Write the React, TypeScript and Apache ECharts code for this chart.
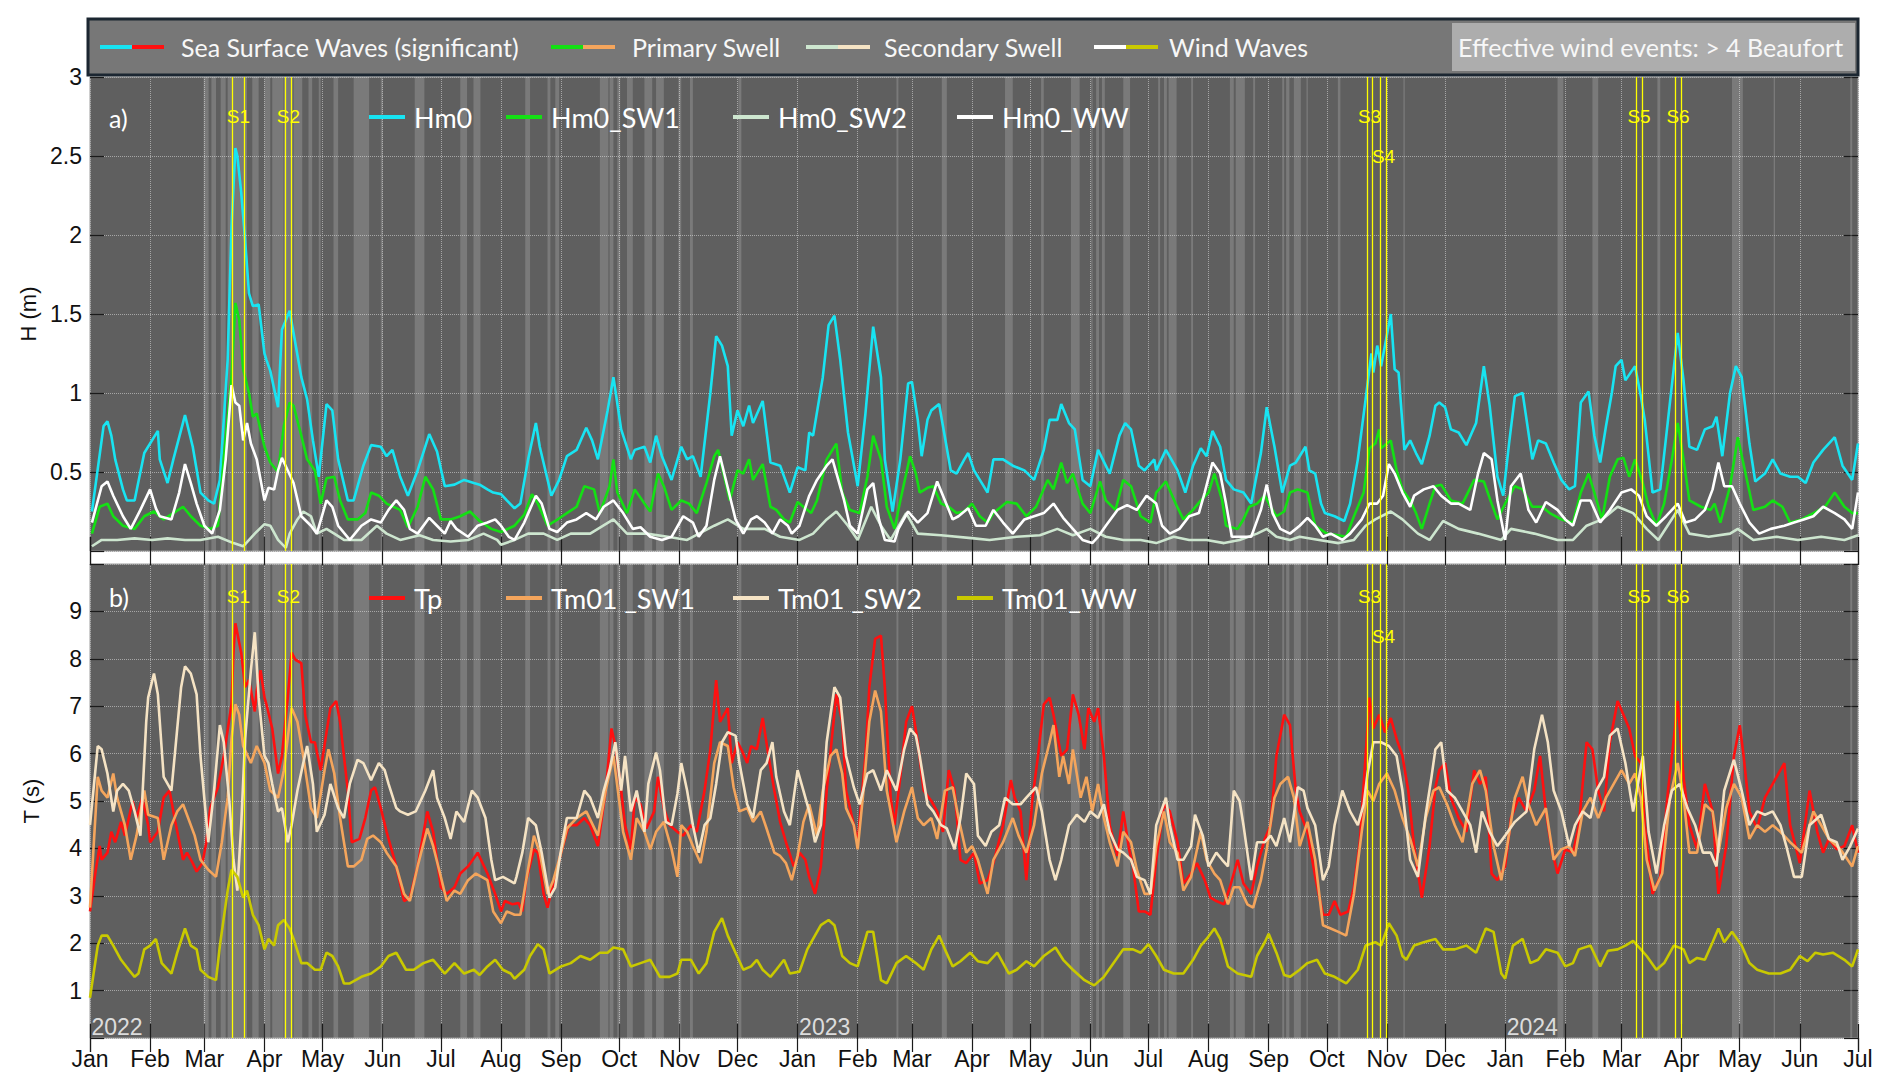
import React, { useEffect, useRef } from "react";
import * as echarts from "echarts";

// ---------- data (x = days since 2022-01-01) ----------
const MONTHS = ["Jan", "Feb", "Mar", "Apr", "May", "Jun", "Jul", "Aug", "Sep", "Oct", "Nov", "Dec"];
const YEARS = ["2022", "2023", "2024"];
const YEAR_DAYS = [0, 365, 730];
const END_DAY = 912;

const STORM_NAMES = ["S1", "S2", "S3", "S4", "S5", "S6"];
const STORM_START = [73.5, 100.9, 658.7, 665.7, 797.6, 817.7];
const STORM_END = [79.7, 103.8, 661.4, 668.8, 800.5, 820.6];
const STORM_LOW = [false, false, false, true, false, false];

const BAND_START = [58.6, 62.6, 67.4, 71, 83.7, 90, 94, 100, 105, 112.7, 118, 125.6, 136, 150, 167.5, 191, 197.8, 224.5, 236, 240, 263, 268, 272, 277, 286, 292, 303.5, 309.5, 334.5, 416, 439.4, 472, 490.6, 506, 516.5, 519, 522, 533, 551, 554, 556.4, 568, 588, 591, 600, 615, 617, 621, 627.5, 643.7, 677.5, 757, 775, 808.5, 847, 868.5, 908];
const BAND_END = [61.2, 65, 70, 81, 87, 93, 99.8, 104.5, 109.5, 114.6, 119, 128, 144, 151, 172.5, 194.5, 201.4, 227, 237.5, 242, 267.4, 270, 273.5, 280, 290, 296, 305, 311, 336, 417, 442, 476, 492, 510.5, 517.2, 520.5, 523.5, 536.5, 552, 555.5, 560.5, 569, 590, 595.7, 601, 616, 618.7, 624.6, 628.2, 645, 678.2, 760, 778, 810, 852.6, 869.2, 909];

const HM0: number[][] = [[1,0.25],[7,0.79],[9,0.82],[11,0.73],[13,0.58],[17,0.39],[19,0.32],[23,0.32],[28,0.62],[35,0.76],[36,0.58],[40,0.43],[43,0.58],[49,0.86],[53,0.66],[57,0.37],[61,0.32],[64,0.30],[67,0.45],[71,1.21],[73,2.05],[75,2.55],[76,2.5],[78,2.27],[80,1.97],[82,1.63],[84,1.55],[87,1.56],[90,1.25],[91,1.21],[93,1.14],[97,0.91],[99,1.4],[103,1.52],[105,1.38],[109,1.1],[112,0.96],[115,0.70],[118,0.47],[122,0.93],[125,0.89],[128,0.58],[133,0.32],[136,0.32],[141,0.54],[145,0.67],[150,0.66],[153,0.60],[156,0.64],[160,0.47],[164,0.35],[169,0.51],[175,0.74],[179,0.63],[183,0.41],[188,0.42],[193,0.45],[198,0.43],
[201,0.42],[205,0.39],[208,0.37],[212,0.36],[215,0.32],[219,0.27],[222,0.30],[226,0.58],[230,0.81],[232,0.66],[238,0.35],[242,0.45],[246,0.60],[251,0.64],[256,0.78],[259,0.70],[262,0.58],[267,0.89],[270,1.1],[274,0.77],[279,0.58],[281,0.64],[286,0.66],[289,0.56],[292,0.73],[295,0.60],[300,0.45],[305,0.66],[308,0.58],[311,0.60],[315,0.47],[320,1.0],[323,1.36],[326,1.3],[329,1.17],[331,0.73],[334,0.89],[337,0.79],[340,0.92],[342,0.81],[347,0.95],[351,0.56],[356,0.54],[361,0.37],[365,0.53],[369,0.51],[371,0.75],[373,0.73],[378,1.1],[381,1.43],[384,1.49],[387,1.21],[391,0.75],[396,0.41],[400,0.87],[404,1.42],[408,1.1],[410,0.58],
[414,0.25],[418,0.58],[422,1.06],[424,1.07],[427,0.83],[429,0.6],[432,0.83],[434,0.89],[438,0.93],[440,0.79],[444,0.51],[447,0.49],[451,0.58],[453,0.62],[456,0.51],[459,0.45],[463,0.37],[466,0.58],[471,0.58],[476,0.54],[482,0.51],[487,0.45],[492,0.64],[495,0.83],[499,0.83],[501,0.93],[505,0.81],[508,0.77],[512,0.45],[516,0.41],[520,0.64],[526,0.49],[531,0.73],[534,0.81],[537,0.77],[541,0.54],[544,0.51],[549,0.58],[550,0.51],[555,0.64],[561,0.51],[565,0.37],[569,0.54],[573,0.65],[576,0.60],[579,0.76],[583,0.66],[586,0.45],[590,0.39],[595,0.37],[599,0.30],[604,0.62],[607,0.91],[611,0.66],[615,0.37],[619,0.54],[622,0.56],
[627,0.66],[629,0.51],[632,0.49],[635,0.30],[637,0.24],[642,0.22],[647,0.19],[650,0.30],[654,0.58],[658,0.96],[661,1.25],[662,1.13],[664,1.30],[666,1.17],[668,1.3],[671,1.5],[673,1.15],[675,1.13],[678,0.64],[681,0.70],[684,0.62],[687,0.55],[691,0.73],[694,0.92],[696,0.94],[699,0.91],[702,0.77],[706,0.75],[710,0.67],[715,0.81],[719,1.17],[722,0.92],[726,0.47],[729,0.35],[732,0.68],[735,0.98],[739,1.0],[742,0.75],[744,0.58],[747,0.70],[751,0.68],[755,0.56],[759,0.45],[763,0.39],[766,0.41],[769,0.94],[773,1.01],[776,0.73],[779,0.56],[782,0.79],[785,1.0],[787,1.17],[790,1.21],[792,1.08],[797,1.17],[800,0.98],[802,0.83],[806,0.37],[810,0.39],[814,0.83],[819,1.38],[822,1.08],[825,0.66],[829,0.64],[833,0.77],[837,0.79],[839,0.85],[842,0.60],[846,1.0],[849,1.17],[852,1.1],[856,0.68],[859,0.44],[864,0.49],[868,0.58],[872,0.49],[877,0.47],[881,0.47],[885,0.43],[889,0.56],[894,0.64],[900,0.72],[904,0.54],[909,0.45],[912,0.68]];

const HM0_SW1: number[][] = [[1,0.11],[5,0.28],[9,0.30],[12,0.22],[17,0.16],[23,0.14],[28,0.22],[33,0.25],[38,0.20],[43,0.24],[48,0.28],[52,0.22],[57,0.16],[62,0.14],[66,0.16],[69,0.58],[73,1.1],[75,1.57],[77,1.46],[79,1.15],[82,1.0],[84,0.85],[86,0.87],[90,0.66],[93,0.56],[97,0.5],[100,0.79],[103,0.94],[105,0.92],[109,0.73],[112,0.58],[116,0.51],[119,0.30],[122,0.46],[126,0.47],[129,0.32],[133,0.20],[138,0.2],[142,0.24],[145,0.37],[149,0.35],[153,0.30],[160,0.26],[164,0.15],[169,0.28],[173,0.47],[177,0.39],[181,0.2],[186,0.2],[191,0.22],[196,0.25],
[201,0.19],[207,0.14],[212,0.12],[219,0.16],[224,0.23],[228,0.36],[231,0.30],[236,0.16],[240,0.19],[246,0.24],[251,0.28],[255,0.41],[260,0.39],[263,0.24],[268,0.41],[270,0.58],[272,0.37],[277,0.24],[281,0.39],[286,0.30],[289,0.25],[293,0.49],[296,0.41],[300,0.26],[305,0.32],[309,0.30],[313,0.24],[318,0.43],[322,0.60],[324,0.64],[327,0.48],[330,0.32],[334,0.51],[337,0.49],[340,0.58],[342,0.45],[347,0.55],[351,0.28],[354,0.26],[358,0.2],[361,0.18],[365,0.31],[368,0.28],[372,0.24],[375,0.32],[380,0.58],[385,0.68],[388,0.37],[392,0.26],[397,0.24],[401,0.47],[404,0.73],[408,0.58],[411,0.28],
[415,0.14],[418,0.32],[423,0.60],[426,0.49],[428,0.37],[432,0.40],[435,0.41],[439,0.30],[443,0.28],[447,0.24],[451,0.25],[455,0.3],[459,0.22],[463,0.18],[466,0.24],[473,0.31],[478,0.30],[483,0.22],[488,0.28],[494,0.45],[497,0.39],[501,0.56],[504,0.43],[507,0.49],[512,0.30],[516,0.24],[521,0.44],[524,0.32],[529,0.26],[533,0.45],[537,0.41],[542,0.22],[547,0.18],[550,0.37],[555,0.44],[560,0.30],[564,0.2],[569,0.26],[573,0.32],[577,0.37],[580,0.49],[584,0.32],[586,0.16],[592,0.14],[595,0.2],[598,0.28],[602,0.30],[606,0.35],[609,0.28],[612,0.22],[616,0.25],[619,0.37],[623,0.39],
[628,0.37],[632,0.16],[638,0.11],[644,0.10],[648,0.09],[652,0.22],[657,0.37],[660,0.65],[663,0.68],[665,0.77],[666,0.65],[669,0.68],[671,0.70],[674,0.51],[677,0.39],[681,0.32],[684,0.24],[687,0.14],[691,0.30],[694,0.41],[697,0.42],[702,0.32],[708,0.30],[714,0.45],[719,0.44],[723,0.30],[726,0.2],[730,0.30],[735,0.41],[739,0.39],[744,0.28],[749,0.28],[753,0.24],[759,0.2],[765,0.18],[769,0.37],[773,0.49],[776,0.37],[780,0.2],[784,0.47],[788,0.58],[791,0.59],[794,0.47],[797,0.58],[801,0.43],[804,0.28],[808,0.16],[812,0.30],[816,0.58],[819,0.81],[822,0.58],[825,0.32],[831,0.28],[836,0.26],[838,0.30],[841,0.18],[846,0.41],[850,0.72],[854,0.49],[858,0.26],[864,0.28],[868,0.32],[873,0.28],[877,0.18],[883,0.2],[889,0.24],[895,0.28],[900,0.37],[905,0.28],[909,0.24],[912,0.24]];

const HM0_SW2: number[][] = [[1,0.03],[6,0.07],[14,0.07],[23,0.08],[32,0.07],[40,0.08],[49,0.07],[57,0.07],[66,0.09],[74,0.05],[79,0.03],[85,0.11],[90,0.17],[93,0.16],[97,0.07],[101,0.02],[103,0.11],[107,0.20],[110,0.25],[114,0.22],[117,0.11],[122,0.14],[126,0.11],[131,0.07],[140,0.07],[148,0.16],[153,0.11],[160,0.07],[170,0.10],[177,0.07],[186,0.06],[195,0.07],
[203,0.11],[210,0.07],[212,0.04],[219,0.07],[226,0.11],[234,0.11],[241,0.07],[248,0.11],[258,0.11],[270,0.20],[277,0.11],[287,0.11],[298,0.09],[308,0.07],[322,0.16],[329,0.20],[337,0.14],[348,0.14],[356,0.09],[366,0.07],[373,0.11],[380,0.2],[385,0.25],[391,0.16],[396,0.07],[403,0.28],[408,0.16],[413,0.07],
[421,0.24],[427,0.11],[439,0.10],[456,0.08],[464,0.07],[478,0.09],[490,0.10],[499,0.14],[507,0.10],[516,0.14],[524,0.09],[533,0.07],[542,0.07],[550,0.05],[559,0.09],[567,0.07],[576,0.07],[585,0.05],[593,0.07],[602,0.11],[607,0.14],[612,0.09],[619,0.07],[624,0.09],
[634,0.07],[644,0.05],[652,0.07],[658,0.16],[663,0.20],[671,0.25],[677,0.2],[685,0.11],[691,0.07],[698,0.19],[706,0.14],[716,0.11],[728,0.07],[733,0.14],[745,0.11],[757,0.07],[765,0.07],[772,0.16],[780,0.2],[788,0.28],[796,0.24],[803,0.14],[809,0.07],[819,0.26],[825,0.11],[835,0.09],[846,0.11],[850,0.14],[858,0.07],[870,0.09],[881,0.07],[893,0.09],[905,0.07],[912,0.10]];

const HM0_WW: number[][] = [[1,0.18],[6,0.41],[9,0.44],[12,0.35],[17,0.22],[21,0.14],[26,0.26],[31,0.39],[34,0.27],[36,0.22],[42,0.2],[46,0.37],[49,0.55],[52,0.43],[55,0.30],[59,0.16],[63,0.11],[67,0.26],[70,0.58],[73,1.05],[75,0.94],[77,0.92],[79,0.70],[81,0.81],[83,0.68],[86,0.58],[90,0.32],[92,0.40],[95,0.39],[97,0.51],[99,0.59],[102,0.51],[105,0.43],[109,0.22],[114,0.16],[117,0.11],[122,0.32],[125,0.28],[128,0.16],[134,0.07],[140,0.16],[145,0.2],[150,0.18],[154,0.26],[158,0.32],[162,0.26],[165,0.14],[169,0.11],[175,0.21],[179,0.16],[183,0.11],[186,0.19],[189,0.14],[195,0.09],[200,0.16],
[205,0.18],[209,0.20],[212,0.16],[216,0.09],[219,0.07],[224,0.18],[230,0.35],[233,0.30],[237,0.14],[241,0.12],[246,0.18],[251,0.20],[256,0.24],[261,0.20],[265,0.28],[270,0.32],[275,0.24],[280,0.14],[284,0.15],[289,0.09],[295,0.07],[300,0.09],[306,0.22],[311,0.18],[314,0.09],[318,0.16],[322,0.45],[325,0.60],[330,0.35],[333,0.20],[337,0.11],[341,0.20],[344,0.22],[348,0.18],[352,0.11],[356,0.2],[360,0.16],[362,0.11],[366,0.16],[371,0.35],[375,0.45],[380,0.54],[383,0.58],[386,0.45],[389,0.32],[392,0.16],[396,0.11],[401,0.39],[404,0.43],[407,0.20],[410,0.07],
[415,0.06],[417,0.14],[422,0.25],[427,0.18],[432,0.24],[437,0.44],[440,0.35],[445,0.20],[448,0.22],[453,0.27],[457,0.16],[462,0.16],[466,0.26],[471,0.18],[476,0.11],[482,0.20],[487,0.22],[492,0.24],[497,0.30],[502,0.21],[507,0.14],[512,0.07],[517,0.05],[520,0.09],[524,0.16],[530,0.26],[535,0.29],[540,0.26],[545,0.35],[550,0.30],[553,0.16],[557,0.11],[562,0.14],[567,0.22],[572,0.24],[575,0.37],[579,0.56],[583,0.49],[586,0.30],[589,0.09],[595,0.09],[599,0.09],[604,0.26],[607,0.42],[610,0.24],[614,0.14],[619,0.11],[624,0.16],
[628,0.21],[632,0.16],[636,0.09],[640,0.11],[646,0.07],[650,0.11],[656,0.20],[660,0.30],[664,0.30],[667,0.35],[670,0.55],[673,0.49],[677,0.37],[681,0.28],[683,0.35],[688,0.39],[693,0.41],[697,0.35],[702,0.30],[706,0.30],[712,0.26],[716,0.49],[719,0.62],[723,0.58],[726,0.32],[730,0.07],[733,0.41],[738,0.49],[742,0.26],[746,0.18],[751,0.31],[757,0.26],[761,0.20],[765,0.16],[769,0.32],[774,0.32],[779,0.18],[784,0.26],[790,0.37],[795,0.39],[799,0.35],[803,0.22],[808,0.16],[813,0.22],[819,0.30],[823,0.18],[828,0.20],[833,0.26],[837,0.39],[840,0.56],[843,0.41],[847,0.41],[851,0.30],[856,0.18],[861,0.11],[867,0.14],[874,0.16],[879,0.18],[884,0.20],[889,0.22],[894,0.28],[900,0.24],[905,0.2],[909,0.14],[912,0.37]];

const TP: number[][] = [[0,2.67],[3,3.55],[5,4.05],[6,3.76],[9,3.91],[11,4.35],[13,4.13],[16,4.56],[18,4.27],[22,5.0],[24,4.64],[27,5.07],[30,4.49],[31,4.13],[35,4.35],[38,5.07],[41,5.22],[44,4.56],[48,3.76],[50,3.91],[53,3.69],[55,3.51],[58,3.69],[60,4.13],[62,4.85],[66,5.29],[69,5.95],[73,7.04],[74,8.13],[75,8.75],[78,8.13],[80,7.4],[82,7.55],[85,6.89],[86,7.33],[88,7.76],[90,7.18],[91,7.04],[94,6.53],[97,5.58],[99,5.95],[102,7.18],[104,8.13],[106,7.98],[109,7.91],[111,6.82],[114,6.24],[116,6.24],[119,5.65],[122,6.45],[124,6.96],[127,7.11],[129,6.67],[133,5.22],[135,4.13],[139,4.2],[142,4.64],[145,5.22],[147,5.29],[150,4.85],[153,4.35],[158,3.62],[162,2.89],[165,2.96],[169,3.62],[174,4.78],[177,4.35],[181,3.18],[184,3.04],[188,3.18],[191,3.47],[195,3.62],[200,3.91],
[205,3.47],[209,3.04],[212,2.67],[214,2.89],[218,2.82],[221,2.85],[223,2.67],[225,3.33],[229,3.98],[231,3.91],[234,3.04],[236,2.75],[238,3.11],[243,3.91],[247,4.49],[251,4.49],[255,4.64],[258,4.49],[262,4.05],[266,5.22],[269,6.53],[271,6.16],[274,5.22],[276,4.49],[279,3.98],[281,5.07],[284,4.93],[287,4.42],[291,4.78],[293,5.51],[296,4.85],[299,4.49],[303,4.35],[306,4.27],[310,4.49],[313,4.35],[317,5.22],[320,6.09],[323,7.55],[325,6.67],[329,6.96],[331,5.8],[334,6.24],[336,6.09],[339,5.8],[341,6.16],[344,6.09],[347,6.75],[350,5.95],[353,5.22],[356,4.56],[359,4.13],[363,3.62],[366,3.91],[369,3.76],[371,3.4],[374,3.04],[377,3.62],[380,5.22],[383,6.45],[385,7.25],[388,6.67],[390,5.22],[394,4.49],[396,4.13],[400,5.95],[402,7.4],[405,8.42],[408,8.49],[410,7.4],
[413,5.07],[415,4.49],[418,5.51],[421,6.67],[424,7.0],[427,6.24],[430,5.22],[434,5.0],[437,4.78],[440,4.35],[443,5.65],[446,5.22],[449,3.76],[452,3.69],[456,3.91],[459,3.26],[463,3.33],[466,3.69],[471,4.49],[475,5.44],[477,5.07],[480,4.78],[483,3.33],[486,5.0],[489,5.95],[492,7.04],[495,7.18],[497,6.82],[501,5.95],[504,6.09],[507,7.25],[510,6.82],[513,6.09],[515,6.96],[518,6.67],[520,6.96],[523,5.95],[526,4.49],[530,3.84],[533,4.78],[536,3.98],[538,3.62],[541,2.67],[544,2.67],[547,2.6],[550,3.76],[554,4.93],[557,4.78],[561,4.13],[564,3.26],[568,3.47],[571,3.69],[575,3.33],[578,2.96],[581,2.89],[585,2.82],[588,3.18],[592,3.76],[595,3.26],[599,3.04],[602,3.62],[606,4.2],[609,4.49],[612,5.95],[616,6.82],[619,6.6],[622,5.22],
[624,4.78],[628,4.35],[632,3.4],[636,2.6],[639,2.6],[642,2.89],[645,2.6],[649,2.67],[652,3.18],[655,4.13],[658,5.95],[660,7.18],[662,6.53],[665,6.82],[668,6.45],[671,6.75],[674,6.31],[677,5.95],[680,5.22],[683,4.05],[687,2.96],[691,4.05],[694,5.29],[696,5.65],[699,5.8],[702,5.07],[706,4.64],[710,4.35],[714,5.65],[717,5.36],[720,5.51],[723,3.47],[726,3.33],[730,3.62],[733,4.64],[737,5.07],[741,4.78],[745,5.22],[748,5.95],[751,4.78],[754,3.98],[757,3.47],[761,3.98],[765,3.91],[768,4.49],[772,6.24],[775,6.09],[778,5.22],[781,4.78],[784,6.24],[788,7.11],[791,6.82],[794,6.53],[797,5.95],[800,5.8],[802,4.49],[806,3.04],[810,3.4],[814,5.22],[817,6.31],[819,7.11],[822,5.51],[825,4.49],[829,3.98],[833,5.36],[837,4.78],[840,3.04],[844,4.05],[848,5.95],[851,6.6],[853,5.95],[856,4.78],[860,4.42],[864,5.07],[868,5.36],[871,5.58],[874,5.8],[877,4.49],[882,3.69],[887,5.22],[891,4.35],[894,3.91],[897,4.2],[901,3.98],[905,4.05],[909,4.49],[912,3.91]];

const TM01_SW1: number[][] = [[0,2.75],[4,5.51],[6,5.22],[9,5.07],[12,5.58],[14,5.07],[18,4.49],[21,3.76],[24,4.27],[28,5.22],[30,4.71],[35,4.64],[38,3.76],[42,4.49],[45,4.78],[48,4.93],[50,4.71],[54,4.27],[57,3.76],[61,3.55],[65,3.4],[68,4.13],[71,5.07],[73,6.31],[75,7.04],[77,6.82],[79,6.16],[83,5.8],[86,6.16],[90,5.8],[93,5.22],[97,5.07],[100,5.65],[103,6.67],[104,6.96],[107,6.67],[110,5.95],[114,4.85],[117,4.64],[121,5.65],[123,6.09],[126,5.58],[129,4.64],[133,3.62],[136,3.62],[140,3.76],[143,4.2],[146,4.27],[150,4.13],[153,3.91],[158,3.62],[162,3.04],[165,2.89],[169,3.62],[174,4.42],[177,4.05],[181,3.4],[184,2.89],[188,3.11],[191,3.04],[195,3.33],[199,3.47],
[205,3.33],[208,2.67],[212,2.42],[215,2.67],[219,2.6],[222,2.6],[225,3.33],[229,4.27],[232,3.91],[236,3.04],[239,3.33],[243,3.91],[246,4.42],[251,4.64],[256,4.78],[262,4.27],[266,5.22],[270,5.95],[273,5.0],[275,4.35],[279,3.76],[282,4.64],[286,4.35],[289,3.98],[292,4.35],[296,4.56],[300,3.98],[303,3.4],[305,4.49],[308,4.35],[311,4.05],[315,3.69],[318,4.35],[322,5.8],[325,6.24],[329,6.16],[332,5.29],[335,4.78],[339,4.85],[342,4.56],[346,4.78],[349,4.42],[353,3.91],[356,3.84],[359,3.69],[362,3.33],[365,3.84],[368,4.56],[371,4.93],[375,4.27],[378,5.22],[382,5.95],[385,6.09],[388,5.58],[390,4.85],[394,4.49],[396,3.98],[399,5.22],[402,6.67],[405,7.33],[408,6.89],[411,5.22],
[416,4.13],[420,4.78],[424,5.29],[427,4.64],[430,4.49],[434,4.64],[437,4.2],[441,5.22],[445,5.29],[448,4.64],[452,3.91],[455,4.05],[458,3.76],[463,3.04],[466,3.76],[471,4.13],[476,4.64],[479,4.27],[483,3.91],[487,4.49],[491,5.58],[495,6.24],[497,6.6],[500,5.51],[502,5.95],[505,5.36],[507,6.09],[511,5.07],[514,5.51],[517,4.78],[520,5.36],[523,4.64],[526,4.13],[530,3.62],[533,4.35],[537,4.13],[540,3.55],[544,3.04],[547,3.04],[550,4.05],[554,4.78],[557,4.13],[561,3.91],[564,3.11],[568,3.4],[573,4.35],[576,3.76],[580,3.47],[583,3.33],[587,2.82],[590,3.18],[593,3.18],[597,2.82],[600,2.75],[604,3.33],[607,3.98],[611,5.07],[614,5.36],[618,5.51],[621,5.07],
[624,4.05],[628,4.56],[632,3.76],[636,2.38],[640,2.31],[644,2.24],[648,2.16],[652,3.04],[656,4.35],[659,5.22],[662,5.0],[665,5.36],[669,5.58],[673,5.22],[677,4.64],[681,4.2],[685,3.62],[689,4.64],[693,5.22],[696,5.29],[700,4.93],[704,4.49],[708,4.13],[713,5.36],[717,5.65],[720,5.22],[724,4.05],[728,3.33],[731,4.05],[735,5.07],[739,5.51],[742,4.93],[746,4.49],[751,4.85],[755,3.76],[759,3.98],[763,4.05],[766,3.84],[770,4.78],[774,5.07],[778,4.64],[782,5.07],[786,5.36],[790,5.65],[794,5.36],[797,5.58],[800,5.07],[803,3.76],[807,3.11],[811,3.47],[815,5.07],[819,5.8],[822,5.07],[825,3.91],[829,3.91],[833,4.93],[837,4.78],[840,3.91],[844,4.85],[848,5.36],[852,5.07],[856,4.2],[860,4.49],[864,4.35],[868,4.49],[872,4.35],[877,4.13],[883,3.91],[889,4.78],[893,4.49],[897,4.2],[903,3.98],[909,3.62],[912,4.05]];

const TM01_SW2: number[][] = [[0,4.49],[4,6.16],[6,6.09],[9,5.58],[12,4.78],[14,5.22],[17,5.36],[20,5.22],[23,4.78],[26,4.27],[29,6.67],[30,7.18],[33,7.69],[35,7.25],[38,5.51],[42,5.22],[44,6.09],[47,7.4],[49,7.84],[52,7.69],[55,7.25],[57,5.95],[61,4.13],[64,5.22],[67,6.6],[69,6.24],[72,4.93],[74,3.76],[76,3.11],[78,4.49],[80,6.31],[83,7.76],[85,8.56],[87,7.18],[90,5.95],[92,5.8],[94,5.36],[97,4.78],[99,4.85],[102,4.13],[104,4.49],[107,5.22],[110,5.8],[112,6.16],[115,5.36],[117,4.35],[121,4.71],[124,5.36],[128,4.85],[131,4.64],[134,5.36],[138,5.87],[141,5.8],[145,5.44],[149,5.8],[152,5.65],[154,5.36],[158,4.85],[160,4.78],[164,4.71],[168,4.78],[173,5.22],[177,5.65],[179,5.07],[183,4.64],[186,4.2],[189,4.78],[193,4.56],[197,5.22],[200,5.07],
[204,4.64],[207,3.76],[209,3.33],[213,3.4],[216,3.33],[219,3.26],[220,3.4],[223,3.91],[226,4.64],[230,4.49],[233,3.91],[237,2.96],[240,3.18],[243,3.98],[246,4.64],[251,4.64],[255,5.22],[258,5.07],[262,4.64],[265,5.22],[268,5.65],[271,6.24],[274,5.22],[276,5.95],[279,4.78],[282,5.22],[286,4.35],[288,5.36],[292,6.02],[294,5.65],[297,4.56],[300,4.49],[303,5.15],[305,5.8],[308,5.22],[311,4.49],[314,3.91],[317,4.49],[320,4.64],[323,5.36],[326,6.24],[329,6.45],[333,6.38],[335,5.8],[339,4.93],[342,4.64],[346,5.65],[349,5.8],[352,6.24],[354,5.51],[358,4.78],[361,4.49],[365,5.65],[368,5.22],[371,4.78],[374,4.13],[377,4.49],[380,6.24],[384,7.4],[387,7.18],[390,5.95],[394,5.29],[397,4.93],[401,5.58],[404,5.65],[408,5.22],[411,5.65],
[416,5.22],[420,6.09],[423,6.53],[426,6.38],[428,5.95],[432,4.93],[435,4.78],[439,4.49],[442,4.42],[446,3.98],[449,4.64],[452,5.58],[456,5.36],[458,4.27],[462,4.05],[465,4.35],[469,4.49],[472,5.07],[476,4.93],[480,4.93],[483,5.07],[488,5.29],[491,4.78],[495,3.76],[498,3.33],[501,3.76],[505,4.49],[509,4.71],[513,4.56],[516,4.78],[520,4.64],[523,4.93],[526,4.35],[530,3.98],[533,3.91],[537,3.76],[540,3.4],[544,3.33],[547,3.04],[550,4.49],[555,5.07],[557,4.49],[561,3.76],[564,3.76],[568,4.05],[570,4.71],[574,4.27],[577,3.62],[581,3.91],[584,3.76],[587,3.62],[590,5.22],[593,5.0],[595,4.49],[599,3.33],[602,4.13],[606,4.13],[609,4.27],[612,4.05],[616,4.64],[619,4.13],[623,5.29],
[626,5.22],[628,4.85],[632,4.49],[636,3.33],[639,3.62],[642,4.49],[646,5.22],[650,4.78],[654,4.49],[657,4.93],[659,5.58],[662,6.24],[666,6.24],[670,6.16],[674,5.95],[677,5.22],[681,3.76],[685,3.4],[689,4.71],[692,5.51],[694,6.09],[697,6.24],[700,5.22],[704,5.07],[708,4.78],[712,4.49],[715,3.91],[718,4.78],[722,4.35],[726,4.05],[730,4.27],[735,4.56],[741,4.78],[745,6.09],[749,6.82],[752,6.24],[755,5.22],[759,4.78],[763,4.05],[766,4.49],[770,4.78],[774,4.64],[777,5.22],[781,5.51],[784,6.38],[788,6.53],[792,5.8],[796,4.78],[801,5.95],[804,4.35],[808,3.47],[812,4.49],[816,5.22],[820,5.36],[824,4.85],[828,4.49],[832,3.91],[836,3.91],[839,3.62],[843,5.22],[848,5.87],[852,5.22],[856,4.49],[860,4.78],[864,4.71],[868,4.78],[872,4.49],[875,4.05],[879,3.4],[883,3.4],[887,4.49],[893,4.71],[897,4.2],[901,4.13],[904,3.76],[908,4.05],[912,4.42]];

const TM01_WW: number[][] = [[0,0.85],[4,1.95],[6,2.16],[9,2.16],[12,1.95],[16,1.65],[20,1.44],[23,1.29],[25,1.36],[28,1.87],[31,1.95],[34,2.09],[37,1.58],[42,1.36],[45,1.8],[49,2.31],[52,1.95],[55,1.87],[57,1.44],[61,1.29],[65,1.22],[67,1.95],[71,3.11],[73,3.55],[76,3.4],[79,2.96],[81,3.11],[84,2.6],[87,2.38],[90,1.87],[92,2.09],[95,1.95],[97,2.38],[100,2.49],[103,2.31],[105,2.09],[109,1.58],[112,1.58],[116,1.44],[119,1.44],[122,1.8],[125,1.73],[128,1.51],[131,1.15],[134,1.15],[140,1.29],[145,1.36],[150,1.51],[154,1.73],[158,1.8],[163,1.44],[167,1.44],[172,1.58],[177,1.65],[183,1.36],[188,1.58],[193,1.36],[198,1.44],
[201,1.33],[205,1.51],[209,1.65],[213,1.44],[217,1.36],[219,1.25],[224,1.44],[227,1.73],[231,1.98],[234,1.87],[237,1.36],[243,1.51],[248,1.58],[253,1.73],[258,1.65],[263,1.8],[267,1.8],[270,1.91],[275,1.87],[279,1.51],[284,1.58],[289,1.65],[294,1.29],[299,1.29],[303,1.36],[305,1.65],[310,1.65],[314,1.36],[318,1.58],[322,2.24],[326,2.53],[329,2.16],[333,1.8],[337,1.44],[341,1.51],[344,1.65],[347,1.44],[351,1.29],[354,1.44],[358,1.65],[361,1.36],[366,1.4],[370,1.87],[373,2.09],[377,2.38],[381,2.49],[384,2.38],[388,1.73],[392,1.58],[396,1.51],[401,2.24],[404,2.24],[408,1.22],[411,1.15],
[416,1.58],[421,1.73],[426,1.58],[430,1.44],[434,1.87],[438,2.16],[441,1.87],[445,1.51],[449,1.62],[454,1.8],[458,1.62],[463,1.58],[468,1.8],[474,1.36],[478,1.44],[483,1.62],[487,1.51],[492,1.73],[498,1.91],[502,1.65],[507,1.44],[513,1.22],[518,1.11],[523,1.29],[528,1.58],[533,1.87],[538,1.87],[542,1.8],[546,1.98],[550,1.73],[554,1.44],[559,1.36],[564,1.36],[569,1.65],[573,1.95],[576,2.09],[580,2.31],[583,2.09],[587,1.51],[592,1.36],[599,1.29],[602,1.73],[606,2.02],[608,2.2],[612,1.8],[616,1.33],[619,1.29],[624,1.44],
[628,1.58],[633,1.65],[637,1.36],[642,1.29],[648,1.15],[654,1.44],[658,1.95],[663,2.02],[666,1.95],[670,2.42],[674,2.16],[677,1.73],[679,1.65],[683,1.95],[688,2.02],[694,2.09],[698,1.87],[704,1.87],[710,1.95],[715,1.8],[720,2.31],[724,2.24],[728,1.36],[730,1.25],[734,1.95],[739,2.09],[743,1.58],[747,1.65],[751,1.87],[757,1.8],[761,1.51],[765,1.58],[768,1.87],[774,1.95],[779,1.51],[783,1.84],[788,1.87],[792,1.95],[796,2.05],[800,1.87],[803,1.73],[808,1.44],[812,1.58],[817,1.95],[822,1.87],[825,1.58],[829,1.69],[833,1.65],[837,2.02],[840,2.31],[843,2.02],[847,2.24],[852,1.95],[856,1.58],[860,1.44],[866,1.36],[872,1.36],[877,1.44],[882,1.73],[886,1.62],[890,1.8],[894,1.76],[899,1.8],[905,1.65],[909,1.51],[912,1.87]];

// ---------- helpers ----------
const DAY = 86400000;
const BASE = new Date(2022, 0, 1).getTime();
const ts = (d: number) => BASE + d * DAY;

const C = {
  hm0: "#18e4f2",
  sw1: "#14e014",
  sw2: "#cde6cf",
  ww: "#ffffff",
  tp: "#ff1010",
  tsw1: "#f4a55c",
  tsw2: "#f5e3c4",
  tww: "#c9c900",
};

const AX_FONT = "Liberation Sans";
const LEG_FONT = "Lato";

function lineSeries(name: string, data: number[][], color: string, axis: number, z: number) {
  return {
    type: "line",
    name,
    data: data.map(([d, v]) => [ts(d), v]),
    xAxisIndex: axis,
    yAxisIndex: axis,
    showSymbol: false,
    symbol: "none",
    color,
    lineStyle: { color, width: 2.6 },
    itemStyle: { color },
    z,
    silent: true,
    emphasis: { disabled: true },
  };
}

function xAxisDef(gridIndex: number, position: string, showLabel: boolean, showSplit: boolean) {
  return {
    type: "time",
    gridIndex,
    position,
    min: ts(0),
    max: ts(END_DAY),
    minInterval: 28 * DAY,
    maxInterval: 31 * DAY,
    axisLine: { show: false },
    axisTick: { show: true, inside: true, length: 14, lineStyle: { color: "#1a1a1a", width: 1.2 } },
    axisLabel: {
      show: showLabel,
      formatter: (v: number) => MONTHS[new Date(v).getMonth()],
      fontSize: 23,
      fontFamily: AX_FONT,
      color: "#111",
      margin: 9,
    },
    splitLine: { show: showSplit, lineStyle: { color: "#a6a6a6", type: "dotted", width: 1 } },
  };
}

function yAxisDef(gridIndex: number, position: string, max: number, interval: number, main: boolean, name: string) {
  return {
    type: "value",
    gridIndex,
    position,
    min: 0,
    max,
    interval,
    name: main ? name : "",
    nameLocation: "middle",
    nameGap: 48,
    nameRotate: 90,
    nameTextStyle: { fontSize: 22, fontFamily: AX_FONT, color: "#111" },
    axisLine: { show: false },
    axisTick: { show: true, inside: true, length: 14, lineStyle: { color: "#1a1a1a", width: 1.2 } },
    axisLabel: {
      show: main,
      formatter: (v: number) => (v === 0 || v === max ? (v === max && max === 3 ? "3" : "") : String(v)),
      fontSize: 23,
      fontFamily: AX_FONT,
      color: "#111",
      margin: 8,
    },
    splitLine: { show: main, lineStyle: { color: "#a6a6a6", type: "dotted", width: 1 } },
  };
}

function bandSeries(axis: number) {
  return {
    type: "line",
    name: "bands" + axis,
    data: [],
    xAxisIndex: axis,
    yAxisIndex: axis,
    z: 1,
    silent: true,
    markArea: {
      silent: true,
      itemStyle: { color: "rgba(255,255,255,0.17)" },
      data: BAND_START.map((s, i) => [{ xAxis: ts(s) }, { xAxis: ts(BAND_END[i]) }]),
    },
  };
}

function stormSeries(axis: number, labelDist: number) {
  return {
    type: "line",
    name: "storms" + axis,
    data: [],
    xAxisIndex: axis,
    yAxisIndex: axis,
    z: 6,
    silent: true,
    markLine: {
      silent: true,
      symbol: ["none", "none"],
      label: { show: false },
      lineStyle: { color: "#ffff00", width: 1.3, type: "solid" },
      data: STORM_START.flatMap((s, i) => [{ xAxis: ts(s) }, { xAxis: ts(STORM_END[i]) }]),
    },
    markArea: {
      silent: true,
      itemStyle: { color: "rgba(0,0,0,0)" },
      label: {
        show: true,
        position: "insideTop",
        distance: labelDist,
        color: "#ffff00",
        fontSize: 19,
        fontFamily: AX_FONT,
      },
      data: STORM_NAMES.map((n, i) => [
        { name: n, xAxis: ts(STORM_START[i]), label: { offset: [0, STORM_LOW[i] ? 40 : 0] } },
        { xAxis: ts(STORM_END[i]) },
      ]),
    },
  };
}

function legendItem(name: string, left: number, top: number) {
  return {
    show: true,
    data: [name],
    left,
    top,
    padding: 0,
    icon: "rect",
    itemWidth: 36,
    itemHeight: 4,
    selectedMode: false,
    textStyle: { color: "#ffffff", fontSize: 27, fontFamily: LEG_FONT, lineHeight: 30, padding: [0, 0, 0, 4] },
  };
}

const LEG_TEXT = ["Sea Surface Waves (significant)", "Primary Swell", "Secondary Swell", "Wind Waves"];
const LEG_COLORS = [[C.hm0, C.tp], [C.sw1, C.tsw1], [C.sw2, C.tsw2], [C.ww, C.tww]];
const LEG_ICON_X = [100, 551, 806, 1094];
const LEG_TEXT_X = [181, 632, 884, 1169];

function buildGraphic() {
  const els: any[] = [
    { type: "rect", shape: { x: 88, y: 19, width: 1770, height: 56 }, style: { fill: "#777777", stroke: "#1b2631", lineWidth: 3 }, silent: true },
    { type: "rect", shape: { x: 1452, y: 23, width: 403, height: 48 }, style: { fill: "#adadad" }, silent: true },
    {
      type: "text", x: 1458, y: 47, silent: true,
      style: { text: "Effective wind events: > 4 Beaufort", fill: "#f7f7f7", font: `25px ${LEG_FONT}`, verticalAlign: "middle" },
    },
    { type: "text", x: 109, y: 118, silent: true, style: { text: "a)", fill: "#ffffff", font: `25px ${LEG_FONT}`, verticalAlign: "middle" } },
    { type: "text", x: 109, y: 597, silent: true, style: { text: "b)", fill: "#ffffff", font: `25px ${LEG_FONT}`, verticalAlign: "middle" } },
  ];
  LEG_TEXT.forEach((t, i) => {
    const x0 = LEG_ICON_X[i];
    els.push({ type: "line", silent: true, shape: { x1: x0, y1: 47, x2: x0 + 32, y2: 47 }, style: { stroke: LEG_COLORS[i][0], lineWidth: 4 } });
    els.push({ type: "line", silent: true, shape: { x1: x0 + 32, y1: 47, x2: x0 + 64, y2: 47 }, style: { stroke: LEG_COLORS[i][1], lineWidth: 4 } });
    els.push({ type: "text", x: LEG_TEXT_X[i], y: 47, silent: true, style: { text: t, fill: "#f7f7f7", font: `25px ${LEG_FONT}`, verticalAlign: "middle" } });
  });
  return els;
}

function buildOption() {
  return {
    animation: false,
    backgroundColor: "#ffffff",
    grid: [
      { left: 90, right: 34, top: 77, height: 474, show: true, backgroundColor: "#5f5f5f", borderColor: "#9d9d9d", borderWidth: 1 },
      { left: 90, right: 34, top: 564, height: 474, show: true, backgroundColor: "#5f5f5f", borderColor: "#9d9d9d", borderWidth: 1 },
    ],
    xAxis: [
      xAxisDef(0, "bottom", false, true),
      xAxisDef(0, "top", false, false),
      xAxisDef(1, "bottom", true, true),
      xAxisDef(1, "top", false, false),
    ],
    yAxis: [
      yAxisDef(0, "left", 3, 0.5, true, "H (m)"),
      yAxisDef(0, "right", 3, 0.5, false, ""),
      yAxisDef(1, "left", 10, 1, true, "T (s)"),
      yAxisDef(1, "right", 10, 1, false, ""),
    ],
    legend: [
      legendItem("Hm0", 369, 102),
      legendItem("Hm0_SW1", 506, 102),
      legendItem("Hm0_SW2", 733, 102),
      legendItem("Hm0_WW", 957, 102),
      legendItem("Tp", 369, 583),
      legendItem("Tm01 _SW1", 506, 583),
      legendItem("Tm01 _SW2", 733, 583),
      legendItem("Tm01_WW", 957, 583),
    ],
    graphic: buildGraphic(),
    series: [
      bandSeries(0),
      bandSeries(2),
      lineSeries("Hm0", HM0, C.hm0, 0, 3),
      lineSeries("Hm0_SW1", HM0_SW1, C.sw1, 0, 3),
      lineSeries("Hm0_SW2", HM0_SW2, C.sw2, 0, 3),
      lineSeries("Hm0_WW", HM0_WW, C.ww, 0, 3),
      lineSeries("Tp", TP, C.tp, 2, 3),
      lineSeries("Tm01 _SW1", TM01_SW1, C.tsw1, 2, 3),
      lineSeries("Tm01 _SW2", TM01_SW2, C.tsw2, 2, 3),
      lineSeries("Tm01_WW", TM01_WW, C.tww, 2, 3),
      stormSeries(0, 30),
      stormSeries(2, 23),
      {
        type: "scatter",
        name: "years",
        xAxisIndex: 2,
        yAxisIndex: 2,
        data: YEAR_DAYS.map((d) => [ts(d), 0.23]),
        symbolSize: 1,
        itemStyle: { color: "rgba(0,0,0,0)" },
        silent: true,
        z: 7,
        label: {
          show: true,
          position: "right",
          distance: 1,
          formatter: (p: any) => YEARS[p.dataIndex],
          color: "#ffffff",
          fontSize: 23,
          fontFamily: AX_FONT,
        },
      },
    ],
  };
}

export default function App() {
  const ref = useRef<HTMLDivElement>(null);
  useEffect(() => {
    if (!ref.current) return;
    const chart = echarts.init(ref.current, null, { renderer: "svg" });
    chart.setOption(buildOption() as any);
    return () => chart.dispose();
  }, []);
  return (
    <div
      ref={ref}
      style={{ position: "fixed", left: 0, top: 0, width: 1892, height: 1090, background: "#ffffff" }}
    />
  );
}
